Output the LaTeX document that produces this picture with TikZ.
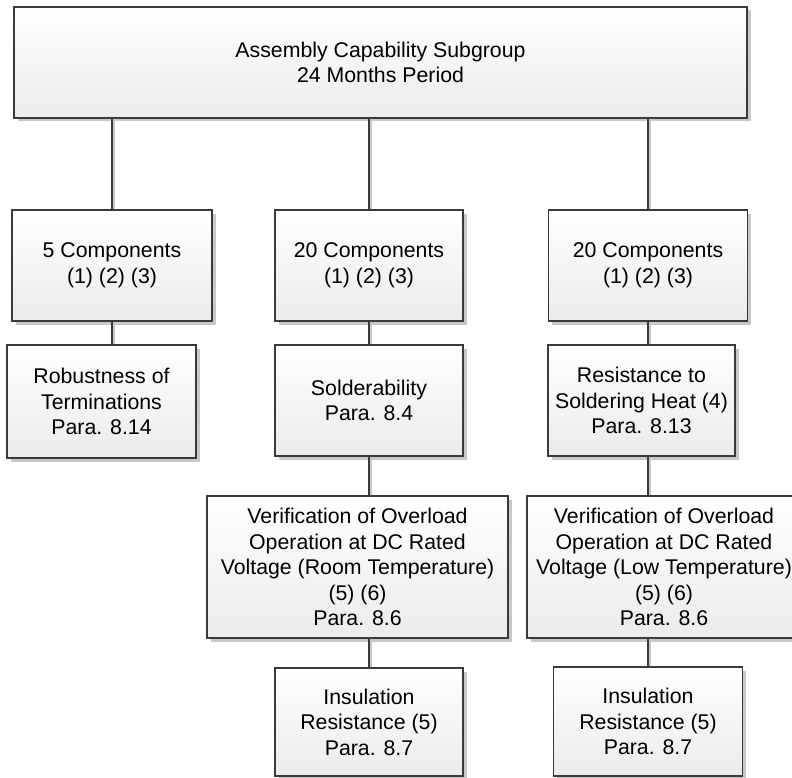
\documentclass[tikz,border=0pt]{standalone}
\usepackage{fontspec}
\setmainfont{Liberation Sans}
\usetikzlibrary{shadows}
\usetikzlibrary{positioning}

\definecolor{edgegray}{HTML}{3A3A3A}
\definecolor{shadegray}{HTML}{C8C8C8}
\definecolor{boxbottom}{HTML}{EBEBEB}

\begin{document}
\begin{tikzpicture}[x=1pt, y=-1pt,
    testbox/.style={draw=edgegray, line width=1.2pt, top color=white, bottom color=boxbottom,
      drop shadow={shadow xshift=3.5pt, shadow yshift=-3.5pt, fill=shadegray, opacity=1},
      align=center, inner sep=0pt, font=\fontsize{21.3}{25.5}\selectfont},
    link/.style={draw=edgegray, line width=1.2pt,
      preaction={draw=shadegray, line width=1.6pt, transform canvas={xshift=2pt}}}]
          \useasboundingbox (0,0) rectangle (792,778);
          \clip (0,0) rectangle (792,778);

          \node[testbox, minimum width=733, minimum height=111] (grp) at (380.5,62.5) {Assembly Capability Subgroup\\24 Months Period};

          \node[testbox, minimum width=200, minimum height=111] (five) at (112,265.5) {5 Components\\(1) (2) (3)};
          \node[testbox, minimum width=188, minimum height=111] (twentyA) at (369,265.5) {20 Components\\(1) (2) (3)};
          \node[testbox, minimum width=199, minimum height=111] (twentyB) at (648,265.5) {20 Components\\(1) (2) (3)};

          \node[testbox, minimum width=189, minimum height=113] (robust) at (101.5,401.5) {Robustness of\\Terminations\\Para. 8.14};
          \node[testbox, minimum width=188, minimum height=111] (solder) at (369,400.5) {Solderability\\Para. 8.4};
          \node[testbox, minimum width=187, minimum height=111] (heat) at (641.5,400.5) {Resistance to\\Soldering Heat (4)\\Para. 8.13};

          \node[testbox, minimum width=301, minimum height=142] (ovlRoom) at (357.5,567) {Verification of Overload\\Operation at DC Rated\\Voltage (Room Temperature)\\(5) (6)\\Para. 8.6};
          \node[testbox, minimum width=274, minimum height=142] (ovlLow) at (664,567) {Verification of Overload\\Operation at DC Rated\\Voltage (Low Temperature)\\(5) (6)\\Para. 8.6};

          \node[testbox, minimum width=188, minimum height=108] (insRoom) at (369,722) {Insulation\\Resistance (5)\\Para. 8.7};
          \node[testbox, minimum width=189, minimum height=109] (insLow) at (648,721.5) {Insulation\\Resistance (5)\\Para. 8.7};

          \draw[link] (grp.south -| five.north) -- (five.north);
          \draw[link] (grp.south -| twentyA.north) -- (twentyA.north);
          \draw[link] (grp.south -| twentyB.north) -- (twentyB.north);
          \draw[link] (five.south) -- (five.south |- robust.north);
          \draw[link] (twentyA.south) -- (solder.north);
          \draw[link] (twentyB.south) -- (twentyB.south |- heat.north);
          \draw[link] (solder.south) -- (solder.south |- ovlRoom.north);
          \draw[link] (twentyB.south |- heat.south) -- (twentyB.south |- ovlLow.north);
          \draw[link] (insRoom.north |- ovlRoom.south) -- (insRoom.north);
          \draw[link] (insLow.north |- ovlLow.south) -- (insLow.north);
        \end{tikzpicture}
\end{document}
